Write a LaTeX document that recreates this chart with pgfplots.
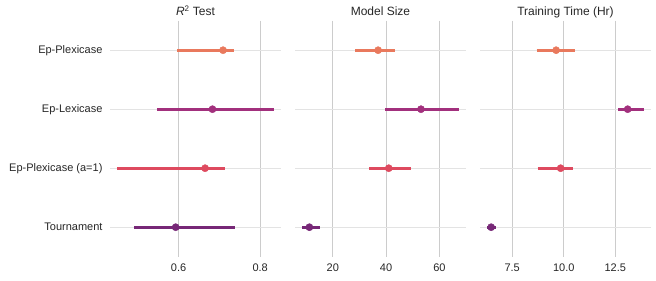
\documentclass[border=0pt]{standalone}
\usepackage{fontspec}
\setmainfont{Liberation Sans}
\usepackage{pgfplots}
\pgfplotsset{compat=1.18}
\definecolor{cPlex}{HTML}{E9795D}
\definecolor{cLex}{HTML}{A2307D}
\definecolor{cPlexA}{HTML}{DE4A5F}
\definecolor{cTour}{HTML}{772877}
\definecolor{txt}{HTML}{262626}
\definecolor{vgrid}{HTML}{CCCCCC}
\definecolor{hgrid}{HTML}{E3E3E3}
\pgfplotsset{
  every axis title/.style={at={(0.5,1)}, anchor=base, yshift=4.9pt},
  panel/.style={
    scale only axis, width=171pt, height=236pt, anchor=south west,
    axis line style={draw=none},
    major tick length=0pt,
    y dir=reverse, ymin=-0.5, ymax=3.5, ytick={0,1,2,3},
    xmajorgrids, ymajorgrids,
    x grid style={vgrid, line width=0.8pt},
    y grid style={hgrid, line width=1.4pt},
    tick label style={font=\fontsize{11}{13}\selectfont, text=txt},
    /pgf/number format/assume math mode=true,
    title style={font=\fontsize{12}{14}\selectfont, text=txt},
    xticklabel style={yshift=-3.5pt},
    clip=false,
  },
  eb/.style={line width=2.8pt, no markers, line cap=butt},
  pt/.style={only marks, mark=*, mark size=3.6pt},
}
\begin{document}
\begin{tikzpicture}[x=1pt,y=1pt]
\path[use as bounding box] (0,0) rectangle (656,-281);
% Panel 1: R^2 Test
\begin{axis}[panel, at={(110pt,-256.7pt)},
  xmin=0.432, xmax=0.851, xtick={0.6,0.8},
  xticklabel style={/pgf/number format/.cd, fixed, precision=1},
  yticklabels={Ep-Plexicase,Ep-Lexicase,Ep-Plexicase (a=1),Tournament},
  yticklabel style={xshift=-4pt},
  title={\textit{R}\textsuperscript{2} Test}]
\addplot[eb, cPlex] coordinates {(0.597,0) (0.737,0)};
\addplot[pt, cPlex, mark options={fill=cPlex, draw=cPlex}] coordinates {(0.709,0)};
\addplot[eb, cLex] coordinates {(0.547,1) (0.833,1)};
\addplot[pt, cLex, mark options={fill=cLex, draw=cLex}] coordinates {(0.683,1)};
\addplot[eb, cPlexA] coordinates {(0.450,2) (0.713,2)};
\addplot[pt, cPlexA, mark options={fill=cPlexA, draw=cPlexA}] coordinates {(0.665,2)};
\addplot[eb, cTour] coordinates {(0.491,3) (0.739,3)};
\addplot[pt, cTour, mark options={fill=cTour, draw=cTour}] coordinates {(0.593,3)};
\end{axis}
% Panel 2: Model Size
\begin{axis}[panel, at={(295pt,-256.7pt)},
  xmin=5.8, xmax=70.0, xtick={20,40,60},
  yticklabels={}, title={Model Size}]
\addplot[eb, cPlex] coordinates {(28.5,0) (43.2,0)};
\addplot[pt, cPlex, mark options={fill=cPlex, draw=cPlex}] coordinates {(37.0,0)};
\addplot[eb, cLex] coordinates {(39.6,1) (67.4,1)};
\addplot[pt, cLex, mark options={fill=cLex, draw=cLex}] coordinates {(53.1,1)};
\addplot[eb, cPlexA] coordinates {(33.6,2) (49.3,2)};
\addplot[pt, cPlexA, mark options={fill=cPlexA, draw=cPlexA}] coordinates {(41.0,2)};
\addplot[eb, cTour] coordinates {(8.5,3) (15.1,3)};
\addplot[pt, cTour, mark options={fill=cTour, draw=cTour}] coordinates {(11.2,3)};
\end{axis}
% Panel 3: Training Time
\begin{axis}[panel, at={(480pt,-256.7pt)},
  xmin=5.94, xmax=14.23, xtick={7.5,10,12.5},
  xticklabel style={/pgf/number format/.cd, fixed, fixed zerofill, precision=1},
  yticklabels={}, title={Training Time (Hr)}]
\addplot[eb, cPlex] coordinates {(8.68,0) (10.55,0)};
\addplot[pt, cPlex, mark options={fill=cPlex, draw=cPlex}] coordinates {(9.63,0)};
\addplot[eb, cLex] coordinates {(12.65,1) (13.88,1)};
\addplot[pt, cLex, mark options={fill=cLex, draw=cLex}] coordinates {(13.10,1)};
\addplot[eb, cPlexA] coordinates {(8.73,2) (10.47,2)};
\addplot[pt, cPlexA, mark options={fill=cPlexA, draw=cPlexA}] coordinates {(9.85,2)};
\addplot[eb, cTour] coordinates {(6.30,3) (6.71,3)};
\addplot[pt, cTour, mark options={fill=cTour, draw=cTour}] coordinates {(6.48,3)};
\end{axis}
\end{tikzpicture}
\end{document}
